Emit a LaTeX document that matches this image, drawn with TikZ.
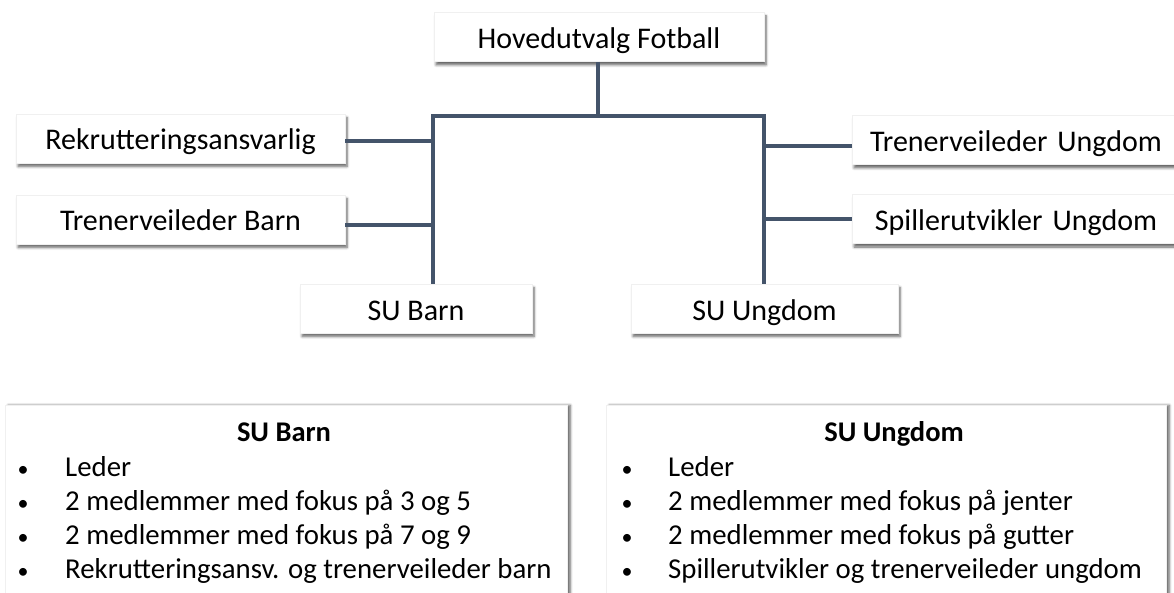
\documentclass[tikz,border=0pt]{standalone}
\usepackage{fontspec}
\setmainfont{Carlito}
\usetikzlibrary{shadows,shadows.blur}
\definecolor{linec}{HTML}{44546A}
\tikzset{
  orgbox/.style={draw=black!6, line width=0.6pt, fill=white, minimum height=49pt, inner sep=0pt,
    text height=23pt, text depth=0pt, font=\fontsize{30}{32}\selectfont,
    blur shadow={shadow blur steps=6, shadow xshift=2pt, shadow yshift=-3.5pt, shadow blur radius=2.5pt, shadow opacity=60}},
  conn/.style={draw=linec, line width=3.2pt},
  listbox/.style={fill=white, draw=black!6, line width=0.6pt, inner sep=0pt, anchor=north west,
    blur shadow={shadow blur steps=6, shadow xshift=3pt, shadow yshift=0pt, shadow blur radius=2.5pt, shadow opacity=60}},
  item/.style={anchor=base west, inner sep=0pt, font=\fontsize{28.8}{30}\selectfont},
  bul/.style={anchor=base, inner sep=0pt, font=\fontsize{22}{26}\selectfont},
  ttl/.style={anchor=base, inner sep=0pt, font=\fontsize{28.5}{30}\selectfont\bfseries}
}
\begin{document}
\begin{tikzpicture}[x=1pt,y=-1pt]
\useasboundingbox (0,0) rectangle (1174,593);
\clip (0,0) rectangle (1174,593);
% boxes
\node[orgbox, minimum width=330pt] (hf) at (599,37) {Hovedutvalg Fotball};
\node[orgbox, minimum width=329pt] (rek) at (180.5,138.5) {Rekrutteringsansvarlig};
\node[orgbox, minimum width=329pt] (tvb) at (180.5,219.5) {Trenerveileder Barn};
\node[orgbox, minimum width=340pt, text width=330pt, align=center] (tvu) at (1022,140) {\hspace*{-12pt}Trenerveileder Ungdom};
\node[orgbox, minimum width=340pt, text width=330pt, align=center] (spu) at (1022,219) {\hspace*{-12pt}Spillerutvikler Ungdom};
\node[orgbox, minimum width=232pt] (sub) at (416,308.5) {SU Barn};
\node[orgbox, minimum width=267pt] (suu) at (764.5,308.5) {SU Ungdom};
% connectors
\coordinate (jt) at (598,116);
\coordinate (jl) at (433,116);
\coordinate (jr) at (764,116);
\draw[conn] (hf.south -| jt) -- (jt);
\draw[conn, line cap=rect] (jl) -- (jr);
\draw[conn] (jl) -- (jl |- sub.north);
\draw[conn] (jr) -- (jr |- suu.north);
\draw[conn] (rek.east |- 0,141) -- (jl |- 0,141);
\draw[conn] (tvb.east |- 0,225) -- (jl |- 0,225);
\draw[conn] (tvu.west |- 0,146) -- (jr |- 0,146);
\draw[conn] (spu.west |- 0,219) -- (jr |- 0,219);
% lists
\node[listbox, minimum width=562pt, minimum height=220pt] (lb) at (5,405) {};
\node[listbox, minimum width=560pt, minimum height=220pt] (lu) at (606,405) {};
\node[ttl] (tb) at (284,441) {SU Barn};
\node[bul] (b1) at (23,476) {•};
\node[bul] (b2) at (23,510) {•};
\node[bul] (b3) at (23,544) {•};
\node[bul] (b4) at (23,578) {•};
\node[item] (i1) at (65,476) {Leder};
\node[item] (i2) at (65,510) {2 medlemmer med fokus på 3 og 5};
\node[item] (i3) at (65,544) {2 medlemmer med fokus på 7 og 9};
\node[item] (i4) at (65,578) {Rekrutteringsansv. og trenerveileder barn};
\node[ttl] (tu) at (894,441) {SU Ungdom};
\node[bul] (c1) at (627,476) {•};
\node[bul] (c2) at (627,510) {•};
\node[bul] (c3) at (627,544) {•};
\node[bul] (c4) at (627,578) {•};
\node[item] (j1) at (668,476) {Leder};
\node[item] (j2) at (668,510) {2 medlemmer med fokus på jenter};
\node[item] (j3) at (668,544) {2 medlemmer med fokus på gutter};
\node[item] (j4) at (668,578) {Spillerutvikler og trenerveileder ungdom};
\end{tikzpicture}
\end{document}
